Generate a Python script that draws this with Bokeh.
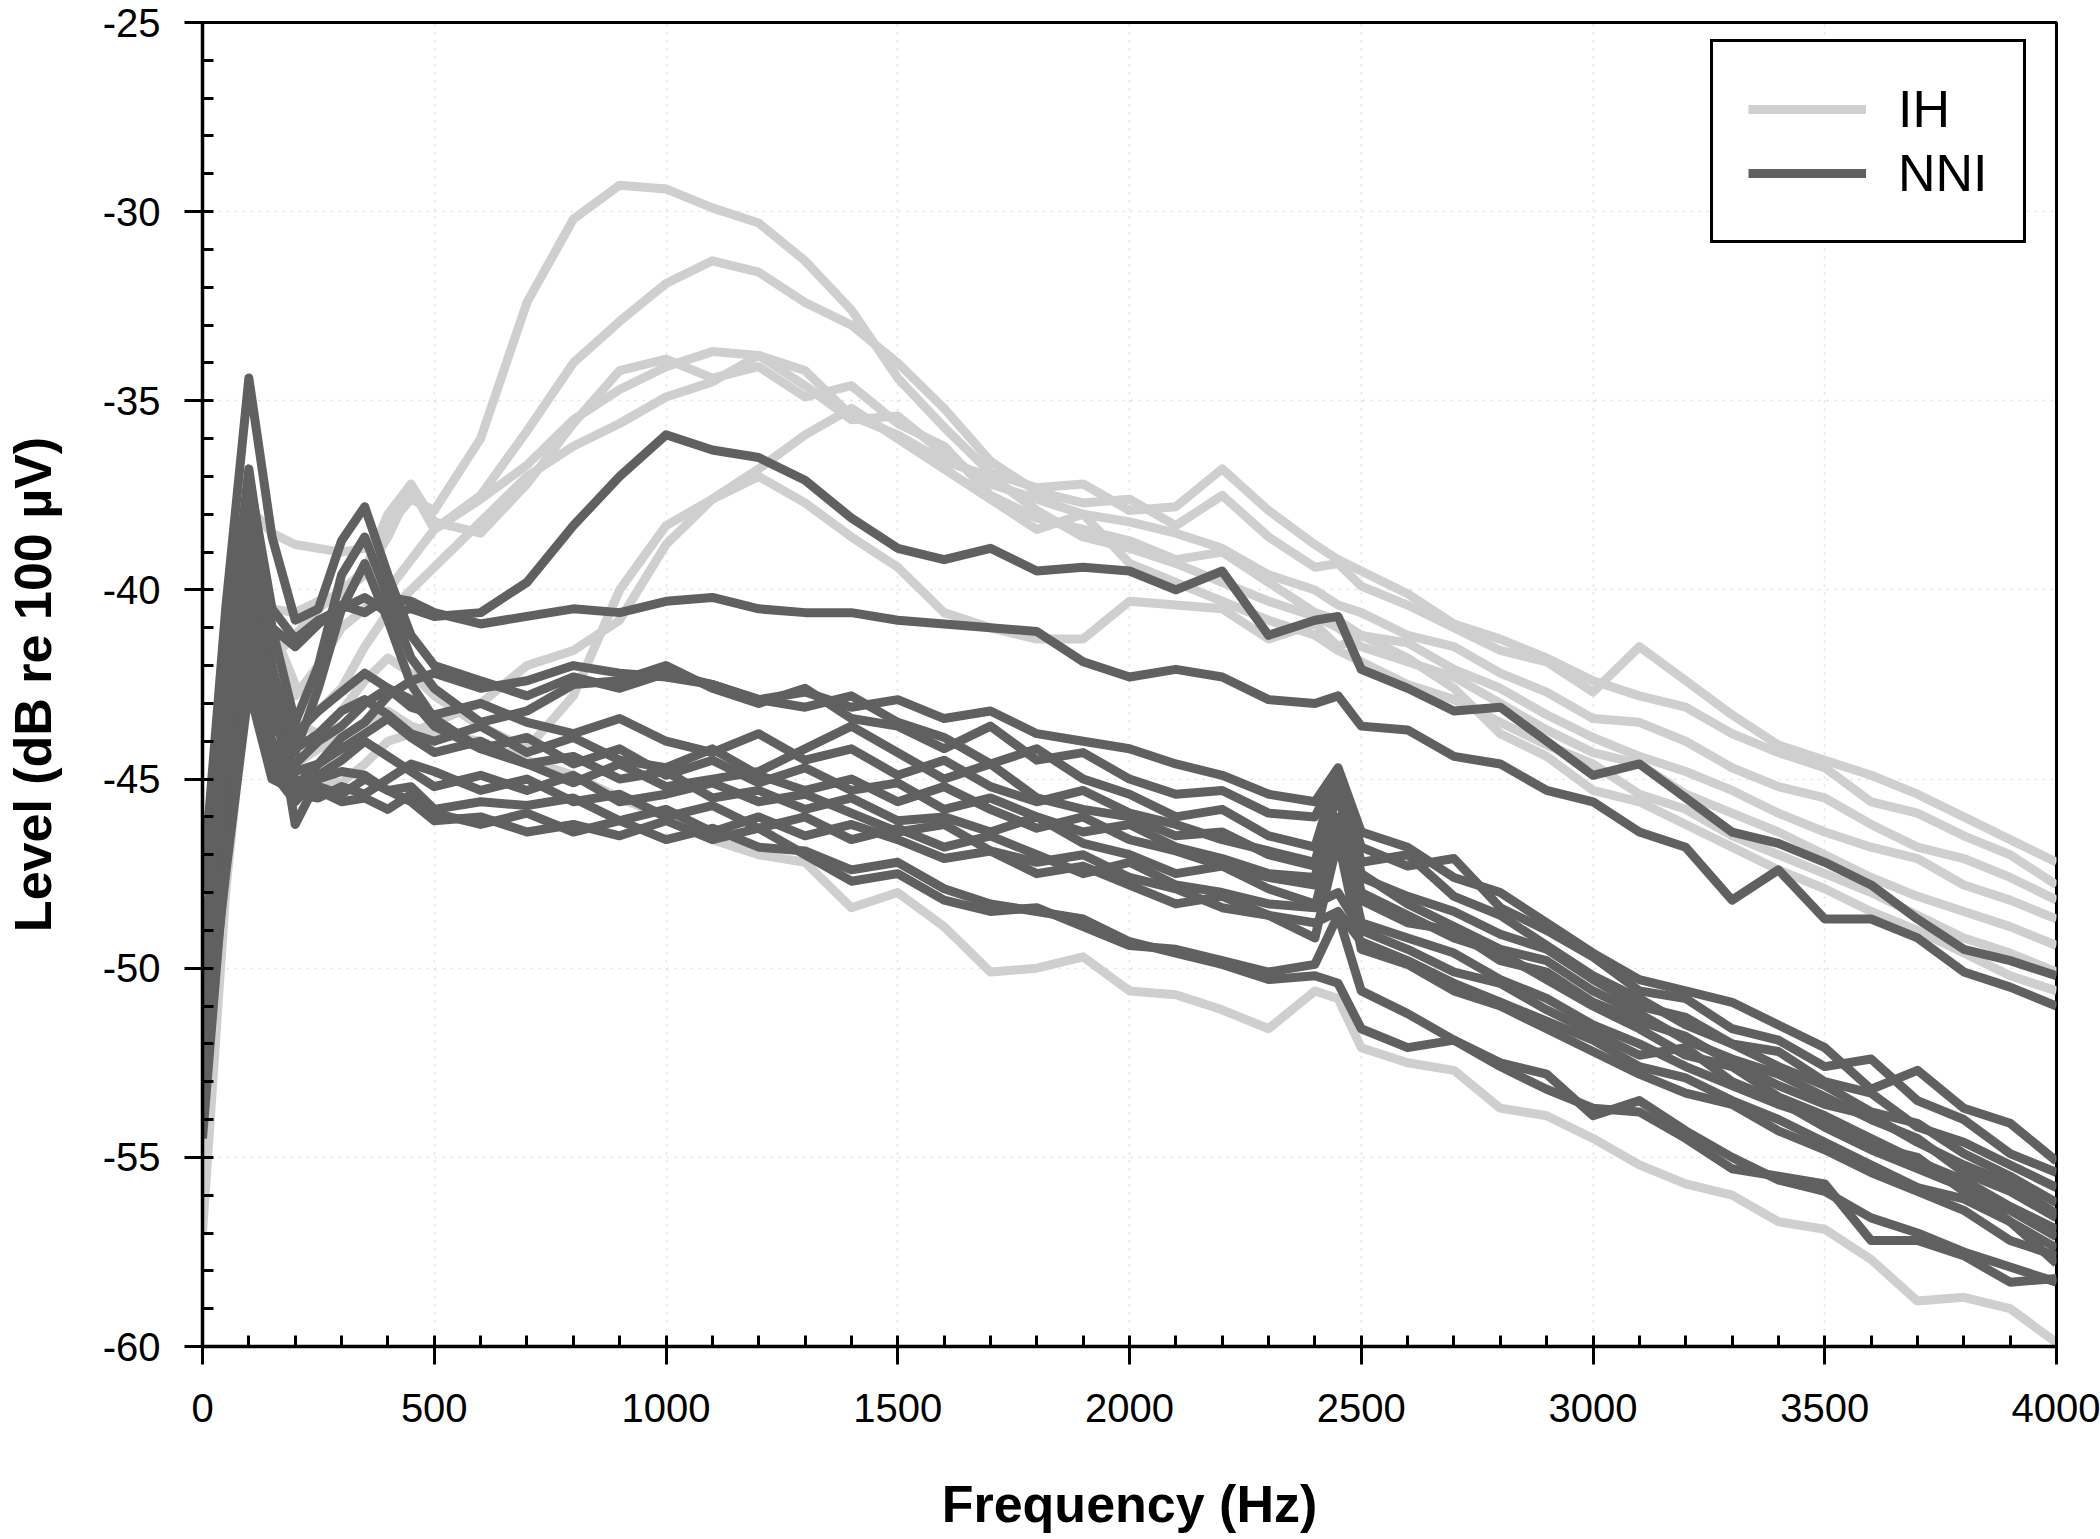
from bokeh.plotting import figure
from bokeh.models import SingleIntervalTicker, Range1d, Legend, LegendItem
from bokeh.embed import file_html
from bokeh.resources import INLINE

# Frequency grid (Hz)
FREQ = [0, 50, 100, 150, 200, 250, 300, 350, 400, 450, 500,
        600, 700, 800, 900, 1000, 1100, 1200, 1300, 1400, 1500, 1600, 1700, 1800, 1900,
        2000, 2100, 2200, 2300, 2400, 2450,
        2500, 2600, 2700, 2800, 2900, 3000, 3100, 3200, 3300, 3400, 3500, 3600, 3700, 3800, 3900, 4000]

Y_TICKS = [-60, -55, -50, -45, -40, -35, -30, -25]
Y_TICK_LABELS = ["-60", "-55", "-50", "-45", "-40", "-35", "-30", "-25"]

# IH group (light grey), level in dB re 100 uV
IH_1 = [-52.0, -44.0, -37.8, -38.5, -38.8, -38.9, -39.0, -38.9, -38.3, -37.6, -37.9,
        -36.0, -32.4, -30.2, -29.3, -29.4, -29.9, -30.3, -31.3, -32.6, -34.4, -35.7, -36.9, -37.3, -37.2,
        -37.9, -37.8, -36.8, -37.9, -38.8, -39.2,
        -39.5, -40.1, -40.9, -41.3, -41.8, -42.4, -42.8, -43.1, -43.8, -44.3, -44.7, -45.6, -45.9, -46.5, -47.0, -47.8]
IH_2 = [-53.0, -45.0, -39.0, -40.5, -40.6, -40.3, -40.1, -39.6, -38.6, -37.3, -38.4,
        -37.5, -35.8, -34.0, -32.9, -31.9, -31.3, -31.6, -32.4, -33.0, -34.0, -35.2, -36.6, -37.4, -37.7,
        -37.6, -38.3, -37.5, -38.6, -39.4, -39.3,
        -39.9, -40.4, -41.0, -41.6, -41.9, -42.7, -41.5, -42.4, -43.3, -44.1, -44.5, -44.9, -45.4, -46.0, -46.6, -47.2]
IH_3 = [-54.0, -46.0, -40.0, -41.5, -42.8, -42.0, -41.0, -40.5, -40.0, -39.2, -38.4,
        -37.6, -36.7, -35.5, -34.7, -34.1, -33.7, -33.8, -34.6, -35.5, -35.4, -36.4, -37.2, -37.6, -38.0,
        -38.2, -38.5, -38.9, -39.6, -40.0, -40.4,
        -40.6, -41.2, -41.5, -42.2, -42.7, -43.4, -43.5, -44.0, -44.7, -45.2, -45.5, -46.2, -46.8, -47.1, -47.6, -48.2]
IH_4 = [-55.0, -46.5, -40.5, -41.8, -41.2, -40.5, -40.0, -39.5, -38.0, -37.2, -38.2,
        -38.5, -37.2, -35.6, -34.2, -33.9, -34.4, -34.1, -34.9, -34.6, -35.6, -36.2, -37.5, -38.1, -38.4,
        -38.7, -39.2, -39.0, -39.8, -40.6, -40.8,
        -41.2, -41.4, -42.1, -42.6, -43.3, -43.9, -44.4, -44.8, -45.3, -45.9, -46.4, -46.8, -47.1, -47.8, -48.2, -48.7]
IH_5 = [-52.5, -44.5, -39.0, -41.0, -42.5, -43.2, -42.6, -41.5, -40.6, -40.0, -39.4,
        -38.2, -37.0, -36.2, -35.6, -34.9, -34.5, -33.8, -34.2, -35.4, -35.9, -36.6, -37.0, -37.9, -38.6,
        -38.9, -39.3, -39.8, -40.3, -40.7, -41.0,
        -41.5, -41.9, -42.3, -43.0, -43.7, -44.3, -44.6, -45.4, -45.9, -46.4, -47.0, -47.6, -48.1, -48.5, -48.9, -49.4]
IH_6 = [-56.0, -47.0, -41.0, -43.5, -44.9, -45.0, -45.1, -44.6, -44.0, -43.8, -43.5,
        -43.0, -42.0, -41.6, -40.8, -38.8, -37.6, -36.8, -35.9, -35.2, -36.0, -36.8, -37.6, -38.4, -38.0,
        -39.3, -39.8, -40.3, -40.8, -41.2, -41.6,
        -41.9, -42.5, -42.9, -43.5, -44.1, -44.6, -45.4, -45.8, -46.5, -47.0, -47.5, -48.0, -48.6, -49.2, -49.6, -50.1]
IH_7 = [-54.0, -46.0, -41.5, -42.5, -43.5, -43.8, -43.2, -42.4, -41.8, -42.2, -42.8,
        -43.6, -44.2, -42.8, -40.0, -38.3, -37.6, -37.0, -37.7, -38.6, -39.4, -40.6, -41.0, -41.3, -41.3,
        -40.3, -40.4, -40.5, -41.3, -40.9, -41.5,
        -41.2, -41.8, -42.6, -43.8, -44.4, -45.3, -45.6, -46.2, -46.8, -47.4, -47.9, -48.5, -49.0, -49.6, -50.2, -50.6]
IH_8 = [-57.0, -48.0, -42.0, -43.8, -44.6, -44.2, -43.9, -43.5, -43.2, -43.6, -43.8,
        -44.0, -44.5, -44.9, -45.5, -46.0, -46.6, -47.0, -47.2, -48.4, -48.0, -48.9, -50.1, -50.0, -49.7,
        -50.6, -50.7, -51.1, -51.6, -50.6, -50.8,
        -52.1, -52.5, -52.7, -53.7, -53.9, -54.5, -55.2, -55.7, -56.0, -56.7, -56.9, -57.7, -58.8, -58.7, -59.0, -59.9]

# NNI group (dark grey)
NNI_1 = [-48.0, -42.0, -37.0, -40.5, -41.3, -40.8, -40.5, -40.2, -40.6, -40.5, -40.7,
         -40.6, -39.8, -38.3, -37.0, -35.9, -36.3, -36.5, -37.1, -38.1, -38.9, -39.2, -38.9, -39.5, -39.4,
         -39.5, -40.0, -39.5, -41.2, -40.8, -40.7,
         -42.1, -42.6, -43.2, -43.1, -44.0, -44.9, -44.6, -45.5, -46.4, -46.7, -47.2, -47.8, -48.7, -49.5, -49.8, -50.2]
NNI_2 = [-50.0, -43.0, -39.5, -41.0, -41.5, -40.9, -40.4, -40.6, -40.2, -40.3, -40.6,
         -40.9, -40.7, -40.5, -40.6, -40.3, -40.2, -40.5, -40.6, -40.6, -40.8, -40.9, -41.0, -41.1, -41.9,
         -42.3, -42.1, -42.3, -42.9, -43.0, -42.8,
         -43.6, -43.7, -44.4, -44.6, -45.3, -45.6, -46.4, -46.8, -48.2, -47.4, -48.7, -48.7, -49.2, -50.1, -50.5, -51.0]
NNI_3 = [-48.0, -40.5, -34.4, -38.6, -40.8, -40.5, -38.7, -37.8, -39.6, -41.2, -42.0,
         -42.4, -42.8, -42.3, -42.6, -42.2, -42.5, -42.9, -42.7, -43.1, -42.9, -43.4, -43.2, -43.8, -44.0,
         -44.2, -44.6, -44.9, -45.4, -45.6, -44.7,
         -46.4, -46.8, -47.6, -48.0, -48.8, -49.6, -50.3, -50.6, -50.9, -51.5, -52.1, -53.2, -52.7, -53.7, -54.1, -55.1]
NNI_4 = [-50.5, -42.5, -36.8, -41.0, -43.5, -42.0, -39.6, -38.6, -40.2, -41.8, -42.6,
         -43.5, -43.2, -42.5, -42.4, -42.0, -42.6, -43.0, -42.6, -43.4, -43.6, -44.2, -43.6, -44.5, -44.3,
         -45.0, -45.4, -45.3, -45.9, -46.0, -44.8,
         -46.8, -47.3, -47.1, -48.4, -49.0, -49.7, -50.6, -50.8, -51.6, -51.9, -52.6, -52.4, -53.5, -54.0, -54.9, -55.4]
NNI_5 = [-52.0, -43.0, -37.5, -42.0, -44.3, -42.6, -40.5, -39.3, -40.8, -42.5, -43.4,
         -44.2, -44.6, -45.1, -44.6, -45.2, -45.0, -44.8, -44.2, -43.6, -44.3, -45.0, -44.6, -45.5, -45.8,
         -46.0, -46.5, -46.4, -47.0, -47.3, -44.9,
         -47.5, -48.3, -48.9, -49.5, -49.8, -50.6, -51.2, -51.9, -52.4, -52.8, -53.4, -54.0, -54.5, -55.4, -55.9, -56.6]
NNI_6 = [-53.0, -44.0, -38.0, -42.5, -46.2, -45.0, -44.8, -44.9, -45.3, -45.2, -45.8,
         -45.6, -45.7, -45.5, -46.1, -45.8, -46.4, -46.0, -46.5, -46.2, -46.6, -47.1, -46.9, -47.5, -47.3,
         -47.8, -48.3, -48.1, -48.6, -48.8, -48.5,
         -49.3, -49.8, -50.4, -50.9, -51.4, -51.9, -52.6, -52.9, -53.5, -54.0, -54.6, -55.2, -55.8, -56.1, -56.7, -57.4]
NNI_7 = [-51.0, -43.5, -38.6, -43.0, -44.8, -44.6, -43.9, -43.5, -42.8, -42.4, -42.2,
         -42.6, -42.4, -42.0, -42.2, -42.3, -42.5, -42.9, -43.1, -42.8, -43.5, -43.9, -44.6, -44.2, -45.0,
         -45.4, -46.0, -45.8, -46.5, -46.8, -44.8,
         -47.2, -47.0, -48.1, -48.6, -49.4, -50.2, -50.8, -51.5, -52.0, -52.2, -53.0, -53.3, -54.2, -54.6, -55.2, -55.8]
NNI_8 = [-52.5, -44.5, -39.2, -43.6, -44.2, -43.8, -43.2, -42.9, -43.3, -43.8, -44.0,
         -43.6, -44.3, -43.9, -44.5, -44.7, -44.2, -44.9, -45.3, -45.0, -45.6, -45.2, -45.8, -46.3, -46.0,
         -46.6, -46.9, -47.3, -47.6, -47.8, -45.1,
         -48.0, -48.6, -49.2, -49.6, -50.3, -51.0, -51.6, -52.3, -52.6, -53.4, -53.9, -54.5, -55.1, -55.6, -56.3, -56.9]
NNI_9 = [-54.0, -45.5, -39.8, -44.3, -45.4, -45.5, -45.2, -45.4, -45.0, -44.6, -44.8,
         -45.3, -45.0, -45.6, -45.4, -46.0, -45.7, -46.3, -46.0, -46.6, -46.3, -46.8, -46.5, -47.0, -47.5,
         -47.2, -47.8, -48.0, -48.3, -48.4, -46.0,
         -48.8, -49.2, -49.6, -50.3, -50.8, -51.5, -52.0, -52.6, -53.1, -53.6, -54.0, -54.7, -55.0, -55.9, -56.4, -57.1]
NNI_10 = [-50.0, -45.0, -40.3, -43.0, -43.8, -43.2, -42.7, -42.2, -42.6, -43.1, -43.3,
          -43.0, -43.5, -43.8, -43.4, -44.0, -44.3, -43.8, -44.5, -44.2, -44.9, -44.5, -45.2, -45.6, -45.3,
          -45.9, -46.2, -46.6, -46.9, -47.2, -45.0,
          -47.6, -48.1, -48.5, -49.1, -49.5, -50.3, -51.0, -51.3, -52.0, -52.6, -53.1, -53.8, -54.1, -54.9, -55.5, -56.2]
NNI_11 = [-53.5, -46.0, -40.8, -44.5, -45.2, -44.6, -44.2, -43.8, -43.4, -43.9, -44.3,
          -44.0, -44.6, -44.4, -45.0, -44.8, -45.5, -45.3, -45.8, -45.5, -46.1, -46.0, -46.4, -46.0, -46.7,
          -47.0, -47.5, -47.3, -47.9, -48.3, -48.0,
          -49.0, -49.5, -50.1, -50.4, -51.1, -51.7, -52.3, -52.1, -53.0, -53.5, -54.2, -54.8, -55.3, -55.8, -56.7, -57.8]
NNI_12 = [-52.0, -46.5, -41.3, -44.0, -45.0, -45.3, -45.6, -45.5, -45.8, -45.4, -45.9,
          -46.2, -45.9, -46.4, -46.1, -46.6, -46.3, -46.8, -46.9, -47.4, -47.2, -47.9, -48.3, -48.5, -48.7,
          -49.3, -49.6, -49.9, -50.3, -50.2, -50.4,
          -51.6, -52.1, -51.9, -52.6, -53.2, -53.7, -53.8, -54.5, -55.3, -55.5, -55.7, -57.2, -57.2, -57.6, -58.3, -58.2]
NNI_13 = [-54.5, -47.0, -41.8, -44.8, -45.6, -44.9, -44.5, -44.0, -44.4, -44.8, -45.2,
          -44.9, -45.3, -44.9, -45.6, -45.4, -45.1, -45.6, -45.4, -45.9, -46.4, -46.2, -46.9, -47.2, -47.0,
          -47.6, -47.9, -48.4, -48.6, -49.2, -46.6,
          -49.5, -49.9, -50.6, -51.0, -51.6, -52.2, -52.8, -53.3, -53.6, -54.3, -54.8, -55.4, -55.9, -56.4, -57.2, -57.6]
NNI_14 = [-51.5, -47.2, -42.3, -44.2, -44.6, -44.0, -43.6, -43.0, -42.6, -42.9, -43.6,
          -44.2, -43.9, -44.6, -44.2, -44.9, -44.5, -45.1, -44.7, -45.3, -45.1, -45.8, -45.5, -46.0, -46.4,
          -46.2, -46.8, -47.1, -47.5, -47.6, -45.3,
          -48.2, -48.8, -49.0, -49.8, -50.1, -50.9, -51.4, -51.8, -52.5, -53.1, -53.6, -53.9, -54.6, -55.2, -55.7, -56.5]
NNI_15 = [-53.0, -47.5, -42.6, -45.0, -45.3, -45.2, -45.4, -45.0, -45.3, -45.6, -46.1,
          -46.0, -46.4, -46.2, -46.5, -46.1, -46.6, -46.3, -47.0, -47.7, -47.5, -48.2, -48.5, -48.4, -48.9,
          -49.4, -49.5, -49.8, -50.1, -49.9, -48.6,
          -50.6, -51.2, -51.9, -52.5, -52.8, -53.9, -53.5, -54.3, -55.0, -55.6, -55.9, -56.6, -57.0, -57.5, -57.9, -58.3]

IH_SERIES = [IH_1, IH_2, IH_3, IH_4, IH_5, IH_6, IH_7, IH_8]
NNI_SERIES = [NNI_1, NNI_2, NNI_3, NNI_4, NNI_5, NNI_6, NNI_7, NNI_8,
              NNI_9, NNI_10, NNI_11, NNI_12, NNI_13, NNI_14, NNI_15]

LABELS = ["IH", "NNI"]
COLORS = ["#cfcfcf", "#606060"]

FONT = "Liberation Sans"

p = figure(width=2100, height=1539, output_backend="svg", toolbar_location=None,
           x_range=Range1d(0, 4000), y_range=Range1d(-60, -25),
           min_border_left=198, min_border_right=44, min_border_top=22, min_border_bottom=193,
           background_fill_color="white", border_fill_color="white")

p.outline_line_color = "black"
p.outline_line_width = 3
p.outline_line_alpha = 1.0

xt = SingleIntervalTicker(interval=500, num_minor_ticks=5)
yt = SingleIntervalTicker(interval=5, num_minor_ticks=5)
p.xaxis.ticker = xt
p.yaxis.ticker = yt
p.xgrid.ticker = xt
p.ygrid.ticker = yt

for g in (p.xgrid, p.ygrid):
    g.grid_line_color = "#dedede"
    g.grid_line_dash = "2 6"
    g.grid_line_width = 1.5

for ax in (p.xaxis, p.yaxis):
    ax.axis_line_width = 3.5
    ax.axis_line_color = "black"
    ax.major_tick_line_width = 3
    ax.minor_tick_line_width = 3
    ax.major_tick_in = 0
    ax.major_tick_out = 18
    ax.minor_tick_in = 11
    ax.minor_tick_out = 0
    ax.major_label_text_font = FONT
    ax.major_label_text_font_size = "40px"
    ax.major_label_text_color = "black"
    ax.axis_label_text_font = FONT
    ax.axis_label_text_font_size = "52px"
    ax.axis_label_text_font_style = "bold"
    ax.axis_label_text_color = "black"

p.yaxis.major_label_overrides = {t: s for t, s in zip(Y_TICKS, Y_TICK_LABELS)}

p.xaxis.axis_label = "Frequency (Hz)"
p.yaxis.axis_label = "Level (dB re 100 \u00b5V)"
p.xaxis.major_label_standoff = 29
p.yaxis.major_label_standoff = 24
p.xaxis.axis_label_standoff = 50
p.yaxis.axis_label_standoff = 38

ih_renderers = []
for ys in IH_SERIES:
    ih_renderers.append(p.line(FREQ, ys, line_color=COLORS[0], line_width=9, line_join="round"))
nni_renderers = []
for ys in NNI_SERIES:
    nni_renderers.append(p.line(FREQ, ys, line_color=COLORS[1], line_width=9, line_join="round"))

legend = Legend(items=[LegendItem(label=LABELS[0], renderers=[ih_renderers[0]]),
                       LegendItem(label=LABELS[1], renderers=[nni_renderers[0]])],
                location=(1508, 1103))
legend.label_text_font = FONT
legend.label_text_font_size = "52px"
legend.label_text_color = "black"
legend.glyph_width = 118
legend.glyph_height = 64
legend.label_height = 64
legend.label_standoff = 32
legend.padding = 35
legend.spacing = 0
legend.margin = 0
legend.border_line_color = "black"
legend.border_line_width = 3
legend.border_line_alpha = 1.0
legend.background_fill_color = "white"
legend.background_fill_alpha = 1.0
p.add_layout(legend)

open("out.html", "w").write(file_html(p, INLINE))
